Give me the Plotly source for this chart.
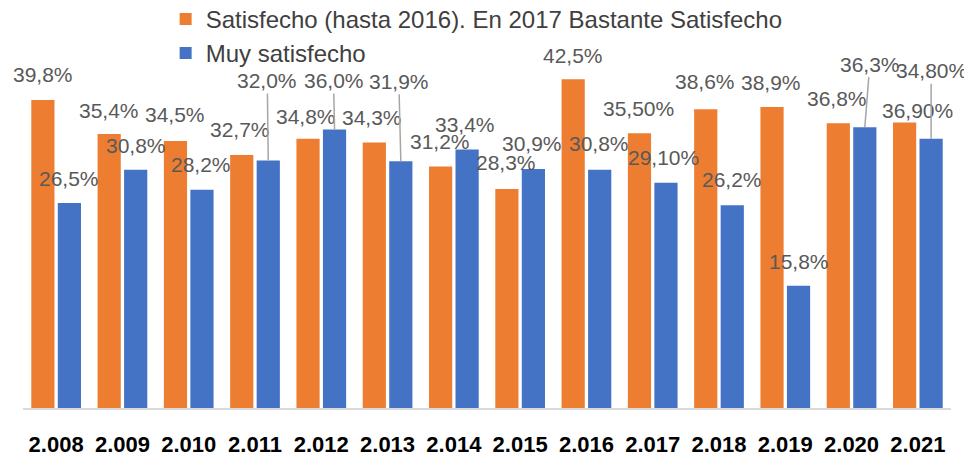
'''
    Grouped bar chart: satisfaction levels per year (2008-2021).
'''
import plotly.graph_objects as go

years = ["2.008", "2.009", "2.010", "2.011", "2.012", "2.013", "2.014",
         "2.015", "2.016", "2.017", "2.018", "2.019", "2.020", "2.021"]

satisfecho = [39.8, 35.4, 34.5, 32.7, 34.8, 34.3, 31.2,
              28.3, 42.5, 35.5, 38.6, 38.9, 36.8, 36.9]
satisfecho_labels = ["39,8%", "35,4%", "34,5%", "32,7%", "34,8%", "34,3%", "31,2%",
                     "28,3%", "42,5%", "35,50%", "38,6%", "38,9%", "36,8%", "36,90%"]

muy_satisfecho = [26.5, 30.8, 28.2, 32.0, 36.0, 31.9, 33.4,
                  30.9, 30.8, 29.1, 26.2, 15.8, 36.3, 34.8]
muy_labels = ["26,5%", "30,8%", "28,2%", "32,0%", "36,0%", "31,9%", "33,4%",
              "30,9%", "30,8%", "29,10%", "26,2%", "15,8%", "36,3%", "34,80%"]

ORANGE = "#ED7D31"
BLUE = "#4472C4"
LABEL_GREY = "#595959"
FONT = "Liberation Sans, Arial, sans-serif"

# label offsets in pixels (dx, dy above bar top), leader = draw a line to the bar
orange_offsets = [(0, 26), (0, 24), (0, 27), (-2, 26), (-2, 22), (-2, 25), (-1, 25),
                  (-1, 27), (0, 24), (-1, 25), (-1, 28), (-1, 25), (-1, 25), (13, 12)]
blue_offsets = [(0, 24), (0, 24), (-1, 25), (-1, 80), (-1, 49), (-2, 80), (-2, 25),
                (-1, 25), (-1, 26), (-2, 25), (0, 26), (0, 24), (5, 63), (0, 68)]
blue_leader = [False, False, False, True, True, True, False,
               False, False, False, False, False, True, True]

x_idx = list(range(len(years)))
x_orange = [i - 0.2 for i in x_idx]
x_blue = [i + 0.2 for i in x_idx]

fig = go.Figure()
fig.add_trace(go.Bar(x=x_orange, y=satisfecho, width=0.35,
                     name="Satisfecho (hasta 2016). En 2017 Bastante Satisfecho",
                     marker=dict(color=ORANGE, line=dict(width=0))))
fig.add_trace(go.Bar(x=x_blue, y=muy_satisfecho, width=0.35,
                     name="Muy satisfecho",
                     marker=dict(color=BLUE, line=dict(width=0))))

annotations = []
for xs, vals, labels, offs, leaders in [
        (x_orange, satisfecho, satisfecho_labels, orange_offsets, [False] * 14),
        (x_blue, muy_satisfecho, muy_labels, blue_offsets, blue_leader)]:
    for x, v, t, (dx, dy), lead in zip(xs, vals, labels, offs, leaders):
        if lead:
            annotations.append(dict(x=x, y=v, text=t, showarrow=True, ax=dx, ay=-dy,
                                    arrowhead=0, arrowwidth=1.5, arrowcolor="#A6A6A6",
                                    standoff=0, font=dict(family=FONT, size=21, color=LABEL_GREY)))
        else:
            annotations.append(dict(x=x, y=v, text=t, showarrow=False,
                                    xshift=dx, yshift=dy, yanchor="middle",
                                    font=dict(family=FONT, size=21, color=LABEL_GREY)))

# the page body adds an 8px margin, so the figure is 8px smaller than the window
fig.update_layout(
    width=964, height=448,
    margin=dict(l=15, r=21, t=0, b=48, autoexpand=False),
    paper_bgcolor="white", plot_bgcolor="white",
    barmode="overlay",
    showlegend=True,
    legend=dict(x=0.1537, y=1.028, xanchor="left", yanchor="top",
                font=dict(family=FONT, size=24, color="#404040"),
                bgcolor="rgba(0,0,0,0)"),
    annotations=annotations,
    xaxis=dict(range=[-0.5, 13.5], tickvals=x_idx, ticktext=years,
               showgrid=False, zeroline=False, showline=True, automargin=False,
               linecolor="#D9D9D9", linewidth=1.5, ticks="",
               ticklabelstandoff=16,
               tickfont=dict(family=FONT, size=22, color="black", weight="bold")),
    yaxis=dict(range=[0, 51.7], visible=False, showgrid=False, zeroline=False,
               automargin=False),
)

fig.write_html("out.html")
